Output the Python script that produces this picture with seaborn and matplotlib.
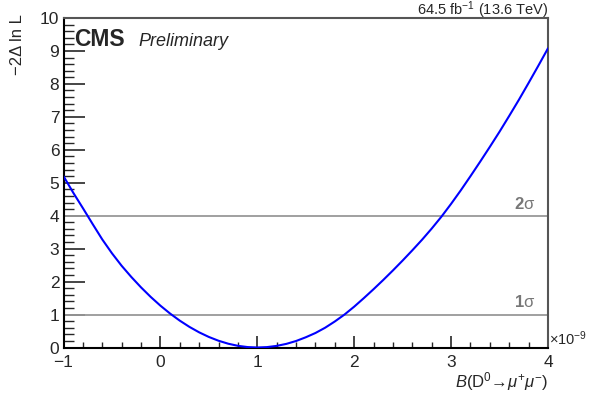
import numpy as np
import pandas as pd
import matplotlib
matplotlib.use("Agg")
import matplotlib.pyplot as plt
import matplotlib.transforms as mtransforms
from matplotlib.ticker import MultipleLocator
import seaborn as sns

# ---- data ----
br_values = [-1.0, -0.9, -0.8, -0.7, -0.6, -0.5, -0.4, -0.3, -0.2, -0.1,
             0.0, 0.1, 0.2, 0.3, 0.4, 0.5, 0.6, 0.7, 0.8, 0.9,
             1.0, 1.1, 1.2, 1.3, 1.4, 1.5, 1.6, 1.7, 1.8, 1.9,
             2.0, 2.1, 2.2, 2.3, 2.4, 2.5, 2.6, 2.7, 2.8, 2.9,
             3.0, 3.1, 3.2, 3.3, 3.4, 3.5, 3.6, 3.7, 3.8, 3.9, 4.0]
nll_values = [5.20, 4.70, 4.23, 3.75, 3.28, 2.86, 2.48, 2.14, 1.825, 1.535,
              1.27, 1.03, 0.815, 0.625, 0.46, 0.32, 0.205, 0.115, 0.051, 0.013,
              0.0, 0.012, 0.049, 0.11, 0.197, 0.31, 0.44, 0.60, 0.79, 1.00,
              1.24, 1.50, 1.77, 2.05, 2.34, 2.64, 2.95, 3.27, 3.61, 3.97,
              4.36, 4.77, 5.20, 5.64, 6.09, 6.55, 7.03, 7.52, 8.03, 8.55, 9.08]
sigma_levels = [1, 4]
sigma_labels = ["1", "2"]
x_ticks = [-1, 0, 1, 2, 3, 4]
y_ticks = [0, 1, 2, 3, 4, 5, 6, 7, 8, 9, 10]

df = pd.DataFrame({"br": br_values, "nll": nll_values})

sns.set_style("ticks")
plt.rcParams["font.family"] = ["Liberation Sans", "DejaVu Sans"]
plt.rcParams["mathtext.fontset"] = "custom"
plt.rcParams["mathtext.rm"] = "Liberation Sans"
plt.rcParams["mathtext.it"] = "Liberation Sans:italic"
plt.rcParams["mathtext.bf"] = "Liberation Sans:bold"

W, H = 590, 394
fig = plt.figure(figsize=(W / 100, H / 100), dpi=100)
L, R, T, B = 63.5, 548, 18, 347.5
ax = fig.add_axes([L / W, 1 - B / H, (R - L) / W, (B - T) / H])

for lvl in sigma_levels:
    ax.axhline(lvl, color="#999999", lw=1.3, zorder=1)

sns.lineplot(data=df, x="br", y="nll", ax=ax, color="#0000ff", lw=1.5,
             zorder=3, sort=True, estimator=None)

ax.set_xlim(x_ticks[0], x_ticks[-1])
ax.set_ylim(y_ticks[0], y_ticks[-1])
ax.set_xticks(x_ticks)
ax.set_yticks(y_ticks)
ax.set_xticklabels([("\u2212%d" % -t) if t < 0 else str(t) for t in x_ticks])
ax.set_yticklabels([str(t) for t in y_ticks])
ax.xaxis.set_minor_locator(MultipleLocator(0.2))
ax.yaxis.set_minor_locator(MultipleLocator(0.2))
ax.tick_params(axis="x", which="major", direction="in", length=9, width=1.2,
               labelsize=12.5, pad=5.5, top=False)
ax.tick_params(axis="x", which="minor", direction="in", length=4.5, width=1.0, top=False)
ax.tick_params(axis="y", which="major", direction="in", length=15, width=1.2,
               labelsize=12.5, pad=3, right=False)
ax.tick_params(axis="y", which="minor", direction="in", length=7.5, width=1.0, right=False)
ax.set_xlabel("")
ax.set_ylabel("")

for s in ["left", "bottom"]:
    ax.spines[s].set_color("black")
    ax.spines[s].set_linewidth(1.5)
for s in ["top", "right"]:
    ax.spines[s].set_visible(True)
    ax.spines[s].set_color("#555555")
    ax.spines[s].set_linewidth(1.5)

# sigma labels
trans = mtransforms.blended_transform_factory(ax.transAxes, ax.transData)
for lvl, lab in zip(sigma_levels, sigma_labels):
    ax.annotate(r"$\mathbf{%s}$" % lab + "\u03c3", xy=(0.973, lvl), xycoords=trans,
                xytext=(0, 3), textcoords="offset points", ha="right", va="bottom",
                fontsize=12, color="#777777")

# CMS text
fig.text(74 / W, 1 - 46 / H, "CMS", fontsize=16.5, fontweight="bold",
         ha="left", va="baseline")
fig.text(138 / W, 1 - 46 / H, "Preliminary", fontsize=13, fontstyle="italic",
         ha="left", va="baseline")
fig.text(548 / W, 1 - 15 / H, r"64.5 fb$^{-1}$ (13.6 TeV)", fontsize=10.5,
         ha="right", va="baseline")

# axis labels
fig.text(18 / W, 1 - 14 / H, "\u22122\u0394 ln L", fontsize=12, rotation=90,
         ha="center", va="top")
fig.text(548 / W, 1 - 387 / H, r"$B$(D$^{0}$" + "\u2192" + r"$\mu^{+}\mu^{-}$)",
         fontsize=12, ha="right", va="baseline")
fig.text(549 / W, 1 - 345 / H, r"$\times$10$^{-9}$", fontsize=10.5,
         ha="left", va="baseline")

fig.savefig("out.png", dpi=100)
